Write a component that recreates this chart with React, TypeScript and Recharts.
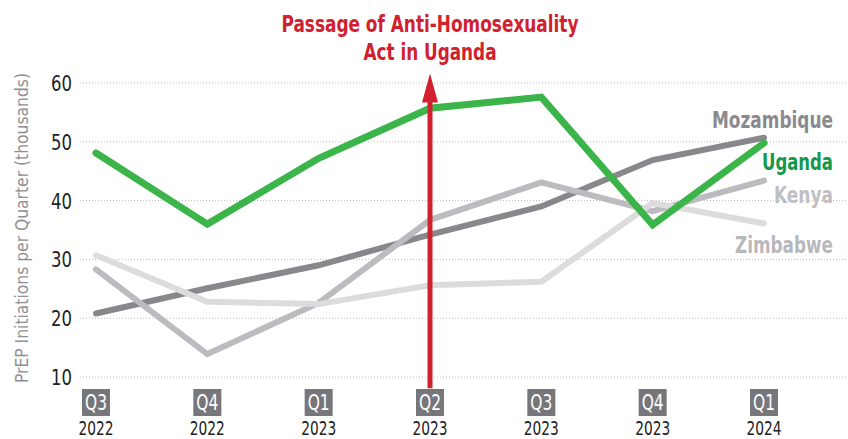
import React from 'react';
import { LineChart, Line, XAxis, YAxis, CartesianGrid, ReferenceLine, LabelList } from 'recharts';

const quarters = ['Q3', 'Q4', 'Q1', 'Q2', 'Q3', 'Q4', 'Q1'];
const years = ['2022', '2022', '2023', '2023', '2023', '2023', '2024'];
const uganda = [48.1, 36.0, 47.2, 55.7, 57.6, 35.9, 49.8];
const mozambique = [20.8, 25.1, 29.0, 34.2, 39.0, 46.9, 50.7];
const kenya = [28.3, 13.9, 22.6, 36.7, 43.1, 38.2, 43.4];
const zimbabwe = [30.7, 22.8, 22.4, 25.6, 26.2, 39.6, 36.1];
const yTicks = [10, 20, 30, 40, 50, 60];

const eventQuarter = 'Q2 2023';
const eventTitle = ['Passage of Anti-Homosexuality', 'Act in Uganda'];

const FONT = "'Liberation Sans Narrow', 'DejaVu Sans Condensed', 'Roboto Condensed', sans-serif";
const W = 848;
const H = 439;

const data = quarters.map((q, i) => ({
  key: `${q} ${years[i]}`,
  uganda: uganda[i],
  mozambique: mozambique[i],
  kenya: kenya[i],
  zimbabwe: zimbabwe[i],
}));

const XTick = (props: any) => {
  const { x, y, payload } = props;
  const i = payload.index;
  return (
    <g>
      <rect x={x - 14} y={y + 12} width={28} height={27} fill="#77777b" />
      <text x={x} y={y + 33} textAnchor="middle" fill="#fff" fontSize={22} fontFamily={FONT}
        textLength={22} lengthAdjust="spacingAndGlyphs">
        {quarters[i]}
      </text>
      <text x={x} y={y + 58} textAnchor="middle" fill="#222" fontSize={19} fontFamily={FONT}
        textLength={35} lengthAdjust="spacingAndGlyphs">
        {years[i]}
      </text>
    </g>
  );
};

const YTick = (props: any) => {
  const { x, y, payload } = props;
  return (
    <text x={x} y={y + 8} textAnchor="end" fill="#222" fontSize={22} fontFamily={FONT}
      textLength={21} lengthAdjust="spacingAndGlyphs">
      {payload.value}
    </text>
  );
};

const YLabel = () => (
  <text
    x={28}
    y={228}
    transform="rotate(-90 28 228)"
    textAnchor="middle"
    fill="#909094"
    fontSize={18}
    fontFamily={FONT}
    textLength={310}
    lengthAdjust="spacingAndGlyphs"
  >
    PrEP Initiations per Quarter (thousands)
  </text>
);

const EventArrow = (props: any) => {
  const { x1, y1, x2, y2 } = props;
  const x = x1;
  const top = Math.min(y1, y2);
  const bottom = Math.max(y1, y2);
  const red = '#d2202f';
  return (
    <g>
      <line x1={x} x2={x} y1={top + 20} y2={bottom} stroke={red} strokeWidth={5} />
      <path d={`M${x},${top} L${x + 8},${top + 29} L${x - 8},${top + 29} Z`} fill={red} />
      <text x={x} y={top - 42} textAnchor="middle" fill={red} fontSize={23} fontWeight="bold" fontFamily={FONT}
        textLength={297} lengthAdjust="spacingAndGlyphs">
        {eventTitle[0]}
      </text>
      <text x={x} y={top - 14} textAnchor="middle" fill={red} fontSize={23} fontWeight="bold" fontFamily={FONT}
        textLength={133} lengthAdjust="spacingAndGlyphs">
        {eventTitle[1]}
      </text>
    </g>
  );
};

const endLabel = (name: string, color: string, dy: number, len: number) => (props: any) => {
  const { y, index } = props;
  if (index !== data.length - 1) return null;
  return (
    <text x={833} y={y + dy} textAnchor="end" fill={color} fontSize={23} fontWeight="bold" fontFamily={FONT}
      textLength={len} lengthAdjust="spacingAndGlyphs">
      {name}
    </text>
  );
};

export default function App() {
  return (
    <div style={{ position: 'absolute', left: 0, top: 0, width: W, height: H, background: '#fff' }}>
      <LineChart width={W} height={H} data={data} margin={{ top: 83, right: 0, left: 0, bottom: 0 }}>
        <CartesianGrid vertical={false} stroke="#bdbdbd" strokeDasharray="1 2" />
        <XAxis
          dataKey="key"
          interval={0}
          padding={{ left: 16, right: 84 }}
          axisLine={false}
          tickLine={false}
          tickSize={0}
          tickMargin={0}
          height={62}
          tick={<XTick />}
        />
        <YAxis
          domain={[10, 60]}
          ticks={yTicks}
          width={80}
          axisLine={false}
          tickLine={false}
          tickSize={0}
          tickMargin={8}
          tick={<YTick />}
          label={<YLabel />}
        />
        <Line dataKey="mozambique" stroke="#88888c" strokeWidth={6} strokeLinecap="round" dot={false} isAnimationActive={false}>
          <LabelList dataKey="mozambique" content={endLabel('Mozambique', '#8a8a8e', -10, 121)} />
        </Line>
        <Line dataKey="kenya" stroke="#bcbcc0" strokeWidth={6} strokeLinecap="round" dot={false} isAnimationActive={false}>
          <LabelList dataKey="kenya" content={endLabel('Kenya', '#bfbfc3', 22, 59)} />
        </Line>
        <Line dataKey="zimbabwe" stroke="#dcdcde" strokeWidth={6} strokeLinecap="round" dot={false} isAnimationActive={false}>
          <LabelList dataKey="zimbabwe" content={endLabel('Zimbabwe', '#b8b8bc', 29, 98)} />
        </Line>
        <Line dataKey="uganda" stroke="#3bb54a" strokeWidth={7} strokeLinecap="round" dot={false} isAnimationActive={false}>
          <LabelList dataKey="uganda" content={endLabel('Uganda', '#13994a', 27, 71)} />
        </Line>
        <ReferenceLine
          segment={[{ x: eventQuarter, y: 8.1 }, { x: eventQuarter, y: 61.6 }]}
          ifOverflow="visible"
          shape={<EventArrow />}
        />
      </LineChart>
    </div>
  );
}
